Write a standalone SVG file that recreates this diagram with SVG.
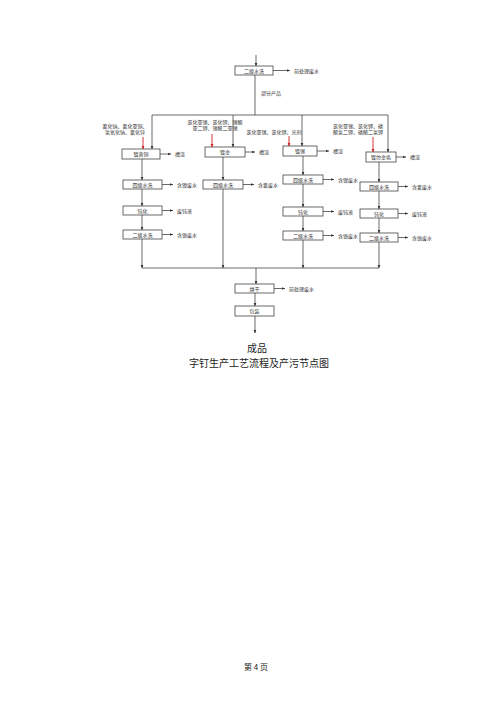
<svg xmlns="http://www.w3.org/2000/svg" width="500" height="707" viewBox="0 0 500 707">
<defs>
<marker id="ah" viewBox="0 0 6 6" refX="5.5" refY="3" markerWidth="4" markerHeight="4" orient="auto"><path d="M0,0.5 L6,3 L0,5.5 z" fill="#333"/></marker>
<marker id="ahr" viewBox="0 0 6 6" refX="5.5" refY="3" markerWidth="4" markerHeight="4" orient="auto"><path d="M0,0.5 L6,3 L0,5.5 z" fill="#d42020"/></marker>
<style>
.b{fill:#fff;stroke:#444;stroke-width:0.8}
.l{fill:none;stroke:#444;stroke-width:0.8}
.a{fill:none;stroke:#444;stroke-width:0.8;marker-end:url(#ah)}
.r{fill:none;stroke:#d42020;stroke-width:0.9;marker-end:url(#ahr)}
.t{font-family:"Noto Sans CJK SC","Liberation Sans",sans-serif;font-size:5px;fill:#333}
.c{text-anchor:middle}
.big{font-family:"Noto Sans CJK SC","Liberation Serif",serif;font-size:10px;fill:#222;text-anchor:middle}
</style>
</defs>
<rect width="500" height="707" fill="#fff"/>

<g id="connectors">
<line class="a" x1="256" y1="55" x2="256" y2="66"/>
<line class="a" x1="273" y1="70.5" x2="290" y2="70.5"/>
<line class="l" x1="255" y1="75" x2="255" y2="115"/>
<line class="l" x1="152" y1="115" x2="388" y2="115"/>
<line class="a" x1="152" y1="115" x2="152" y2="149"/>
<line class="a" x1="233" y1="115" x2="233" y2="147"/>
<line class="a" x1="302" y1="115" x2="302" y2="146"/>
<line class="a" x1="388" y1="115" x2="388" y2="152"/>
<line class="r" x1="143" y1="137" x2="143" y2="149"/>
<line class="r" x1="212" y1="134" x2="212" y2="147"/>
<line class="r" x1="289" y1="136" x2="289" y2="146"/>
<line class="r" x1="373" y1="137" x2="373" y2="152"/>
<line class="a" x1="160" y1="154" x2="171" y2="154"/>
<line class="a" x1="245" y1="152" x2="255" y2="152"/>
<line class="a" x1="317" y1="151" x2="329" y2="151"/>
<line class="a" x1="396" y1="157" x2="406" y2="157"/>
<line class="a" x1="142" y1="159" x2="142" y2="180"/>
<line class="a" x1="162" y1="184.5" x2="173" y2="184.5"/>
<line class="a" x1="142" y1="189" x2="142" y2="206"/>
<line class="a" x1="162" y1="210.5" x2="173" y2="210.5"/>
<line class="a" x1="142" y1="215" x2="142" y2="230"/>
<line class="a" x1="162" y1="234.5" x2="173" y2="234.5"/>
<line class="a" x1="142" y1="239" x2="142" y2="268"/>
<line class="a" x1="223" y1="157" x2="223" y2="180"/>
<line class="a" x1="243" y1="184.5" x2="254" y2="184.5"/>
<line class="a" x1="223" y1="189" x2="223" y2="268"/>
<line class="a" x1="303" y1="156" x2="303" y2="175"/>
<line class="a" x1="323" y1="179.5" x2="334" y2="179.5"/>
<line class="a" x1="303" y1="184" x2="303" y2="207"/>
<line class="a" x1="323" y1="211.5" x2="334" y2="211.5"/>
<line class="a" x1="303" y1="216" x2="303" y2="231"/>
<line class="a" x1="323" y1="235.5" x2="334" y2="235.5"/>
<line class="a" x1="303" y1="240" x2="303" y2="268"/>
<line class="a" x1="379" y1="162" x2="379" y2="182"/>
<line class="a" x1="398" y1="186.5" x2="408" y2="186.5"/>
<line class="a" x1="379" y1="191" x2="379" y2="209"/>
<line class="a" x1="398" y1="213.5" x2="408" y2="213.5"/>
<line class="a" x1="379" y1="218" x2="379" y2="233"/>
<line class="a" x1="398" y1="237.5" x2="408" y2="237.5"/>
<line class="a" x1="379" y1="242" x2="379" y2="268"/>
<line class="l" x1="142" y1="268" x2="379" y2="268"/>
<line class="a" x1="256" y1="268" x2="256" y2="284"/>
<line class="a" x1="274" y1="288.5" x2="285" y2="288.5"/>
<line class="a" x1="255" y1="293" x2="255" y2="306"/>
<line class="a" x1="255" y1="316" x2="255" y2="333"/>
</g>

<g id="n_wash_top"><rect class="b" x="235" y="66" width="38" height="9"/><text class="t c" x="254" y="72.5">二级水洗</text></g>
<g id="o_top"><text class="t" x="294" y="72.5">前处理废水</text></g>
<g id="l_part"><text class="t" x="261" y="95">部分产品</text></g>

<g id="n_a"><rect class="b" x="122" y="149" width="38" height="10"/><text class="t c" x="141" y="156">镀黄铜</text></g>
<g id="chem_a"><text class="t c" x="125" y="128">氰化钠、氰化亚铜、</text><text class="t c" x="125" y="134">氢氧化钠、氰化锌</text></g>
<g id="o_a"><text class="t" x="175" y="156">槽渣</text></g>

<g id="n_b"><rect class="b" x="205" y="147" width="40" height="10"/><text class="t c" x="225" y="154">镀金</text></g>
<g id="chem_b"><text class="t c" x="215" y="124">氯化亚锡、氯化钾、锡酸</text><text class="t c" x="215" y="130">亚二钾、锡酸二亚锡</text></g>
<g id="o_b"><text class="t" x="259" y="154">槽渣</text></g>

<g id="n_c"><rect class="b" x="283" y="146" width="34" height="10"/><text class="t c" x="300" y="153">镀锡</text></g>
<g id="chem_c"><text class="t c" x="274" y="134">氯化亚锡、氯化钾、光剂</text></g>
<g id="o_c"><text class="t" x="333" y="153">槽渣</text></g>

<g id="n_d"><rect class="b" x="366" y="152" width="30" height="10"/><text class="t c" x="381" y="159">镀仿金色</text></g>
<g id="chem_d"><text class="t c" x="358" y="128">氯化亚锡、氯化钾、磷</text><text class="t c" x="358" y="134">酸氢二钾、磷酸二氢钾</text></g>
<g id="o_d"><text class="t" x="410" y="159">槽渣</text></g>

<g id="n_a1"><rect class="b" x="123" y="180" width="39" height="9"/><text class="t c" x="142.5" y="186.5">四级水洗</text></g>
<g id="o_a1"><text class="t" x="177" y="186.5">含镍废水</text></g>
<g id="n_a2"><rect class="b" x="123" y="206" width="39" height="9"/><text class="t c" x="142.5" y="212.5">钝化</text></g>
<g id="o_a2"><text class="t" x="177" y="212.5">废钝液</text></g>
<g id="n_a3"><rect class="b" x="123" y="230" width="39" height="9"/><text class="t c" x="142.5" y="236.5">二级水洗</text></g>
<g id="o_a3"><text class="t" x="177" y="236.5">含铬废水</text></g>

<g id="n_b1"><rect class="b" x="203" y="180" width="40" height="9"/><text class="t c" x="223" y="186.5">四级水洗</text></g>
<g id="o_b1"><text class="t" x="258" y="186.5">含氰废水</text></g>

<g id="n_c1"><rect class="b" x="283" y="175" width="40" height="9"/><text class="t c" x="303" y="181.5">四级水洗</text></g>
<g id="o_c1"><text class="t" x="338" y="181.5">含镍废水</text></g>
<g id="n_c2"><rect class="b" x="283" y="207" width="40" height="9"/><text class="t c" x="303" y="213.5">钝化</text></g>
<g id="o_c2"><text class="t" x="338" y="213.5">废钝液</text></g>
<g id="n_c3"><rect class="b" x="283" y="231" width="40" height="9"/><text class="t c" x="303" y="237.5">二级水洗</text></g>
<g id="o_c3"><text class="t" x="338" y="237.5">含铬废水</text></g>

<g id="n_d1"><rect class="b" x="360" y="182" width="38" height="9"/><text class="t c" x="379" y="188.5">四级水洗</text></g>
<g id="o_d1"><text class="t" x="412" y="188.5">含氰废水</text></g>
<g id="n_d2"><rect class="b" x="360" y="209" width="38" height="9"/><text class="t c" x="379" y="215.5">钝化</text></g>
<g id="o_d2"><text class="t" x="412" y="215.5">废钝液</text></g>
<g id="n_d3"><rect class="b" x="360" y="233" width="38" height="9"/><text class="t c" x="379" y="239.5">二级水洗</text></g>
<g id="o_d3"><text class="t" x="412" y="239.5">含铬废水</text></g>

<g id="n_dry"><rect class="b" x="235" y="284" width="39" height="9"/><text class="t c" x="254.5" y="290.5">烘干</text></g>
<g id="o_dry"><text class="t" x="289" y="290.5">前处理废水</text></g>
<g id="n_pack"><rect class="b" x="235" y="306" width="39" height="10"/><text class="t c" x="254.5" y="313">包装</text></g>

<g id="product"><text class="big" x="257" y="352">成品</text></g>
<g id="title"><text class="big" x="259" y="367">字钉生产工艺流程及产污节点图</text></g>
<g id="footer"><text class="big" style="font-size:8px" x="256" y="670">第 4 页</text></g>
</svg>
